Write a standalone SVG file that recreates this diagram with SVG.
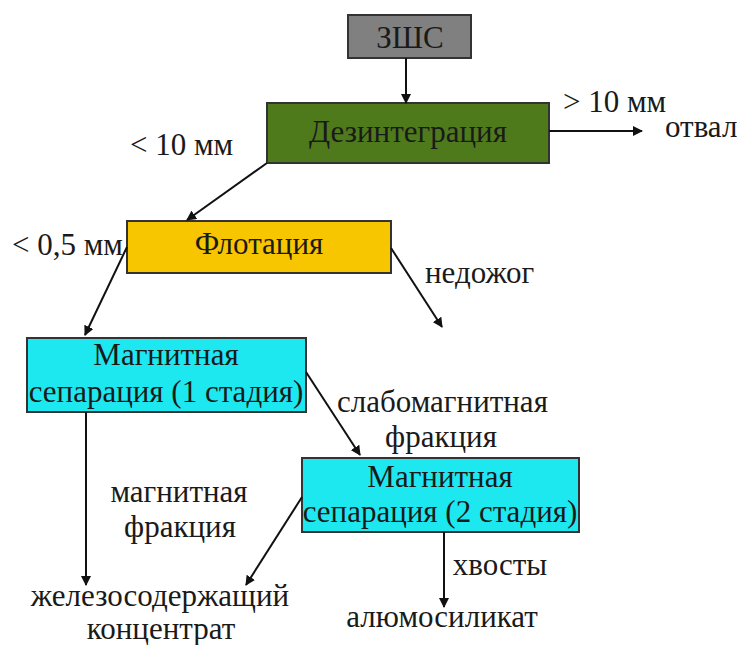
<svg xmlns="http://www.w3.org/2000/svg" width="737" height="645" viewBox="0 0 737 645">
<defs>
<marker id="ah" viewBox="0 0 10 10" refX="9" refY="5" markerWidth="5" markerHeight="5" orient="auto" markerUnits="strokeWidth">
<path d="M0,0 L10,5 L0,10 z" fill="#111"/>
</marker>
</defs>
<rect width="737" height="645" fill="#fff"/>
<g id="zshs"><rect stroke="#333" stroke-width="2" x="348" y="15" width="123" height="43" fill="#808080"/><text font-family="Liberation Serif" font-size="31" fill="#1a1a1a" text-anchor="middle" x="410" y="48">ЗШС</text></g>
<g id="dezint"><rect stroke="#333" stroke-width="2" x="267" y="103" width="282" height="60" fill="#4e7a1c"/><text font-family="Liberation Serif" font-size="31" fill="#1a1a1a" text-anchor="middle" x="408" y="142">Дезинтеграция</text></g>
<g id="flot"><rect stroke="#333" stroke-width="2" x="127" y="221" width="264" height="52" fill="#f7c600"/><text font-family="Liberation Serif" font-size="31" fill="#1a1a1a" text-anchor="middle" x="259" y="254">Флотация</text></g>
<g id="ms1"><rect stroke="#333" stroke-width="2" x="27" y="338" width="279" height="74" fill="#1ee8ef"/><text font-family="Liberation Serif" font-size="31" fill="#1a1a1a" text-anchor="middle" x="166" y="365">Магнитная</text><text font-family="Liberation Serif" font-size="31" fill="#1a1a1a" text-anchor="middle" x="166" y="402">сепарация (1 стадия)</text></g>
<g id="ms2"><rect stroke="#333" stroke-width="2" x="302" y="458" width="277" height="74" fill="#1ee8ef"/><text font-family="Liberation Serif" font-size="31" fill="#1a1a1a" text-anchor="middle" x="440" y="487">Магнитная</text><text font-family="Liberation Serif" font-size="31" fill="#1a1a1a" text-anchor="middle" x="440" y="522">сепарация (2 стадия)</text></g>
<g id="connectors" stroke="#111" stroke-width="2" fill="none" marker-end="url(#ah)">
<line x1="406" y1="58" x2="406" y2="103"/>
<line x1="549" y1="131" x2="642" y2="131"/>
<line x1="267" y1="163" x2="187" y2="220"/>
<line x1="127" y1="247" x2="85" y2="335"/>
<line x1="391" y1="248" x2="442" y2="327"/>
<line x1="306" y1="372" x2="360" y2="455"/>
<line x1="86" y1="412" x2="86" y2="585"/>
<line x1="302" y1="497" x2="246" y2="585"/>
<line x1="444" y1="532" x2="444" y2="607"/>
</g>
<g id="labels" font-family="Liberation Serif" font-size="31" fill="#1a1a1a">
<text font-family="Liberation Serif" x="563" y="112">&gt; 10 мм</text>
<text font-family="Liberation Serif" x="665" y="137">отвал</text>
<text font-family="Liberation Serif" x="130" y="155">&lt; 10 мм</text>
<text font-family="Liberation Serif" x="12" y="255">&lt; 0,5 мм</text>
<text font-family="Liberation Serif" x="425" y="283">недожог</text>
<text font-family="Liberation Serif" x="337" y="412">слабомагнитная</text>
<text font-family="Liberation Serif" text-anchor="middle" x="441" y="447">фракция</text>
<text font-family="Liberation Serif" text-anchor="middle" x="179" y="502">магнитная</text>
<text font-family="Liberation Serif" text-anchor="middle" x="180" y="537">фракция</text>
<text font-family="Liberation Serif" text-anchor="middle" x="500" y="575">хвосты</text>
<text font-family="Liberation Serif" text-anchor="middle" x="442" y="627">алюмосиликат</text>
<text font-family="Liberation Serif" text-anchor="middle" x="160" y="606">железосодержащий</text>
<text font-family="Liberation Serif" text-anchor="middle" x="161" y="639">концентрат</text>
</g>
</svg>
